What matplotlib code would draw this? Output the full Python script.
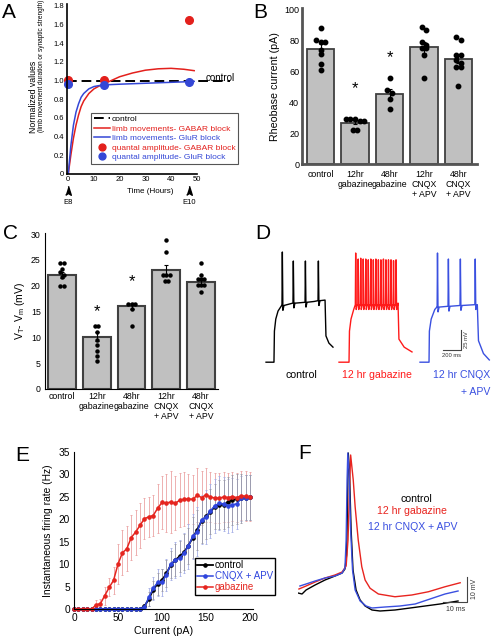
import numpy as np
import matplotlib
matplotlib.use('Agg')
import matplotlib.pyplot as plt
from matplotlib.lines import Line2D

plt.rcParams['font.family'] = ['Liberation Sans', 'DejaVu Sans']

W, H = 492, 636
RED = '#e3201c'
BLUE = '#3447d6'

# ---------------- data ----------------
# A: normalized values over time
a_curve_t = [0, 1, 2, 3, 4, 5, 6, 8, 10, 12, 14, 16, 20, 25, 30, 35, 40, 45, 49]
a_limb_gabar = [0, 0.2, 0.38, 0.52, 0.63, 0.72, 0.78, 0.86, 0.91, 0.94, 0.97, 0.99,
                1.04, 1.08, 1.11, 1.125, 1.13, 1.12, 1.105]
a_limb_glur = [0, 0.3, 0.52, 0.66, 0.75, 0.82, 0.86, 0.91, 0.935, 0.945, 0.95, 0.955,
               0.96, 0.965, 0.97, 0.975, 0.98, 0.985, 0.99]
a_quantal_t = [0, 14, 47]
a_quantal_gabar = [1.01, 1.005, 1.65]
a_quantal_glur = [0.96, 0.955, 0.985]
a_control_level = 0.99

# B / C: bar charts
groups = ['control', '12hr\ngabazine', '48hr\ngabazine', '12hr\nCNQX\n+ APV', '48hr\nCNQX\n+ APV']
b_means = [74.5, 27, 45.5, 75.5, 68]
b_err = [3, 1, 3, 3.5, 2.5]
b_points = [
    [88, 80, 79, 79, 74, 71, 65, 61],
    [29, 29, 29, 28, 28, 22, 22],
    [56, 48, 46, 42, 36],
    [89, 87, 79, 77, 75, 75, 70.5, 56],
    [82, 80, 70.5, 70.5, 67.3, 65.6, 63, 62.6, 50.8],
]
b_stars = [1, 2]
b_star_y = [49, 69]

c_means = [22.0, 10.1, 16.0, 23.1, 20.8]
c_err = [0.6, 0.9, 0.6, 1.0, 0.6]
c_points = [
    [24.4, 24.4, 23.3, 22.6, 22.1, 21.6, 19.9, 19.9],
    [12.1, 12.1, 11.0, 9.5, 8.5, 7.4, 6.3, 5.4],
    [16.5, 16.5, 16.5, 15.4, 12.1],
    [28.9, 26.6, 22.1, 22.1, 22.1, 21.0, 21.0],
    [24.4, 22.1, 21.2, 21.2, 21.2, 20.1, 20.1, 20.1, 18.7],
]
c_star_y = [15.0, 20.8]

# D: example firing traces (ms, mV) key points and spikes (time, base, peak)
d_ctrl_keys = [(67, -68.8), (155, -68.8), (160, -30), (175, -15), (200, -5), (240, 2),
               (400, 5), (600, 7), (722, 8.75), (732, -36), (765, -45), (810, -50)]
d_ctrl_spikes = [(244, 2, 68.75), (366, 5, 57.5), (500, 6, 57.5), (644, 8, 57.5)]
d_gaba_keys = [(877, -68.8), (988, -68.8), (993, -30), (1010, -15), (1040, -3), (1055, 2),
               (1532, 5), (1542, -40), (1600, -50), (1687, -56)]
d_gaba_spike_t = [1058, 1086, 1114, 1142, 1170, 1198, 1226, 1254, 1282, 1310, 1338,
                  1366, 1394, 1422, 1450, 1478, 1506]
d_gaba_spike_peak = [67.5, 60, 61, 60, 60, 59, 60, 59, 60, 59, 59, 60, 59, 59, 59, 58, 59]
d_cnqx_keys = [(1776, -68.8), (1876, -68.8), (1880, -30), (1900, -15), (1940, -3),
               (1963, 0), (2412, 3), (2425, -42), (2480, -58), (2545, -66)]
d_cnqx_spikes = [(1966, 0, 67.5), (2087, 1, 60), (2220, 2, 60), (2385, 3, 60)]

# E: firing rate vs current
e_current = np.arange(0, 205, 5)
e_control = [0] * 16 + [0.6, 2.2, 4.3, 5.6, 6.4, 7.9, 9.8, 10.9, 11.7, 12.6, 14.1, 15.9,
                        17.6, 19.6, 20.6, 21.6, 22.8, 23.2, 23.2, 23.8, 24.3, 24.5, 24.6,
                        24.8, 24.9]
e_cnqx = [0] * 16 + [0.4, 2.6, 4.6, 5.9, 6.0, 7.6, 10.0, 10.9, 11.3, 12.4, 14.0, 16.2,
                     17.2, 19.9, 20.4, 21.8, 23.0, 23.5, 23.4, 23.0, 23.2, 23.4, 24.6,
                     24.8, 24.9]
e_gabazine = [0, 0, 0, 0, 0, 0.9, 1.2, 3.0, 4.8, 6.4, 10.0, 12.5, 13.4, 15.9, 17.1, 18.6,
              20.1, 20.5, 20.8, 22.4, 23.7, 23.6, 23.8, 23.5, 24.2, 24.4, 24.5, 24.4, 25.3,
              24.8, 25.4, 24.9, 24.7, 24.7, 24.9, 24.8, 25.0, 24.8, 25.2, 25.1, 25.0]
e_control_err = [0] * 16 + [0.5, 1.5, 2, 2.5, 2.5, 3, 3, 3.5, 3.5, 4, 4, 4.5, 4.5, 5, 5,
                            5, 5, 5.5, 5.5, 5.5, 5.5, 5.5, 5.5, 5, 5]
e_cnqx_err = [0] * 16 + [0.5, 2, 2.5, 3, 3, 3.5, 3.5, 4, 4, 4.5, 5, 5, 5.5, 5.5, 6, 6,
                         6, 6, 6, 6, 6, 5.5, 5, 5, 5]
e_gabazine_err = [0, 0, 0, 0, 0, 1, 1, 2, 2, 3, 4.5, 5, 5, 5, 5, 5, 4.5, 4.5, 4.5, 5.5,
                  6, 6.5, 7, 6, 6, 6, 5.5, 5.5, 6, 6, 6, 5.5, 5.5, 5.5, 5.5, 5.5, 5.5,
                  5.5, 5.5, 5.5, 5.5]

# F: single action potentials (ms, mV)
f_ctrl_t = [0, 1.7, 3.4, 7.2, 11.4, 15.6, 18.6, 19.8, 20.5, 20.9, 21.2, 21.7, 22.4, 23.2,
            24.5, 26.2, 28.3, 31.2, 34.6, 40.9, 47.3, 53.6, 59.9, 67.5]
f_ctrl_v = [-39.4, -39.8, -38.2, -36.2, -34.2, -32.6, -31.4, -29.8, -24.2, -2.2, 16.6, 9.8,
            -14.2, -30.2, -38.2, -42.2, -44.6, -46.2, -46.6, -46.2, -45.4, -44.6, -43.8, -42.6]
f_cnqx_t = [0.8, 3.4, 7.2, 11.4, 15.6, 18.6, 19.8, 20.3, 20.7, 21.0, 21.5, 22.2, 23.0, 24.1,
            26.2, 28.7, 31.2, 36.7, 43.0, 49.4, 55.7, 62.0, 67.5]
f_cnqx_v = [-36.6, -35.8, -34.6, -33.4, -32.6, -31.4, -29.4, -18.2, 5.8, 16.6, 9.8, -14.2,
            -30.2, -38.2, -42.6, -44.6, -45.4, -45.0, -44.6, -43.8, -41.8, -39.8, -38.6]
f_gaba_t = [0.4, 3.4, 7.2, 11.4, 15.6, 18.6, 20.3, 21.1, 21.7, 22.2, 23.3, 24.1, 25.4, 26.9,
            28.3, 30.4, 33.9, 40.9, 48.0, 55.0, 62.0, 68.4]
f_gaba_v = [-37.8, -36.6, -35.0, -33.4, -32.2, -31.0, -28.6, -18.2, 1.8, 15.8, 5.8, -4.9,
            -18.2, -28.9, -34.2, -37.5, -39.8, -40.9, -40.2, -38.9, -36.9, -35.3]


fig = plt.figure(figsize=(W / 100, H / 100), dpi=100)


def px_axes(l, t, r, b):
    return fig.add_axes([l / W, 1 - b / H, (r - l) / W, (b - t) / H])


def px_text(x, y, s, **kw):
    return fig.text(x / W, 1 - y / H, s, **kw)


def swarm(vals, center, tol, step):
    # spread dots of nearly equal value side by side
    order = sorted(range(len(vals)), key=lambda i: -vals[i])
    grp = []
    for i in order:
        if grp and abs(vals[grp[-1][0]] - vals[i]) <= tol:
            grp[-1].append(i)
        else:
            grp.append([i])
    xs = [0.0] * len(vals)
    for g in grp:
        for k, i in enumerate(g):
            xs[i] = center + (k - (len(g) - 1) / 2) * step
    return xs


def build_trace(keys, spikes):
    pts = list(keys)
    for ts, base, peak in spikes:
        pts += [(ts, base), (ts + 4, peak), (ts + 10, base - 6), (ts + 22, base)]
    pts.sort()
    return [p[0] for p in pts], [p[1] for p in pts]


# ---------------- A ----------------
ax = px_axes(67, 4, 197, 173.7)
ax.plot([-0.5, 63], [a_control_level] * 2, color='k', ls='--', dashes=(5, 2.5), lw=1.4,
        clip_on=False, label='control')
ax.plot(a_curve_t, a_limb_gabar, color=RED, lw=1.1, label='limb movements- GABAR block')
ax.plot(a_curve_t, a_limb_glur, color=BLUE, lw=1.1, label='limb movements- GluR block')
ax.plot(a_quantal_t, a_quantal_gabar, 'o', color=RED, ms=5.5, clip_on=False,
        label='quantal amplitude- GABAR block')
ax.plot(a_quantal_t, a_quantal_glur, 'o', color=BLUE, ms=5.5, clip_on=False,
        label='quantal amplitude- GluR block')
ax.set_xlim(-0.5, 50.1)
ax.set_ylim(0, 1.82)
yt = np.arange(0, 1.81, 0.2)
ax.set_yticks(yt)
ax.set_yticklabels(['0'] + [f'{v:.1f}' for v in yt[1:]])
ax.set_xticks([0, 10, 20, 30, 40, 50])
ax.tick_params(length=0, labelsize=5.5, pad=2)
for s in ['top', 'right']:
    ax.spines[s].set_visible(False)
for s in ['left', 'bottom']:
    ax.spines[s].set_linewidth(1.2)
leg = ax.legend(loc='lower left', bbox_to_anchor=(0.154, 0.035), fontsize=6,
                handlelength=2.0, handletextpad=0.2, labelspacing=0.2, borderpad=0.3,
                fancybox=False, edgecolor='#555555', framealpha=1, markerscale=0.9)
leg.get_frame().set_linewidth(0.8)
for txt, col in zip(leg.get_texts(), ['k', RED, BLUE, RED, BLUE]):
    txt.set_color(col)
ax.text(53.3, 1.03, 'control', fontsize=7, va='center', ha='left')
ax.plot([0, 47], [-0.2, -0.2], ls='none', color='k', ms=9, clip_on=False,
        marker=[(0, 1), (0.45, -0.45), (0, -0.15), (-0.45, -0.45)])
ax.text(0, -0.31, 'E8', fontsize=5.5, ha='center', va='center')
ax.text(47, -0.31, 'E10', fontsize=5.5, ha='center', va='center')
ax.text(31.8, -0.186, 'Time (Hours)', fontsize=5.8, ha='center', va='center')
px_text(33, 133, 'Normalized values', rotation=90, ha='center', va='bottom', fontsize=6.3)
px_text(42, 132, '(limb movement duration or synaptic strength)', rotation=90,
        ha='center', va='bottom', fontsize=4.7)

# ---------------- B ----------------
ax = px_axes(302, 8, 477, 164.3)
xb = np.arange(len(groups))
ax.bar(xb, b_means, width=0.8, color='#c0c0c0', edgecolor='#404040', linewidth=1.3)
ax.errorbar(xb, b_means, yerr=b_err, fmt='none', ecolor='k', elinewidth=0.8,
            capsize=1.5, capthick=0.8)
for i, pts in enumerate(b_points):
    ax.plot(swarm(pts, i, 2.0, 0.135), pts, 'o', color='k', ms=3.2, zorder=4)
for i, y in zip(b_stars, b_star_y):
    ax.text(i, y, '*', fontsize=12, ha='center', va='center')
ax.set_xlim(-0.54, 4.54)
ax.set_ylim(0, 101)
ax.set_yticks([0, 20, 40, 60, 80, 100])
ax.set_xticks(xb)
ax.set_xticklabels(groups, fontsize=6.3, linespacing=1.15)
ax.tick_params(axis='y', length=0, labelsize=6.5, pad=2)
ax.tick_params(axis='x', length=0, pad=4)
ax.set_ylabel('Rheobase current (pA)', fontsize=7.7, labelpad=3)
for s in ['top', 'right']:
    ax.spines[s].set_visible(False)
for s in ['left', 'bottom']:
    ax.spines[s].set_linewidth(2)
    ax.spines[s].set_color('#555555')

# ---------------- C ----------------
ax = px_axes(45, 233, 218, 389)
ax.bar(xb, c_means, width=0.8, color='#c0c0c0', edgecolor='#404040', linewidth=1.5)
ax.errorbar(xb, c_means, yerr=c_err, fmt='none', ecolor='k', elinewidth=0.8,
            capsize=1.5, capthick=0.8)
for i, pts in enumerate(c_points):
    ax.plot(swarm(pts, i, 0.55, 0.1), pts, 'o', color='k', ms=2.2, zorder=4)
for i, y in zip(b_stars, c_star_y):
    ax.text(i, y, '*', fontsize=12, ha='center', va='center')
ax.set_xlim(-0.49, 4.49)
ax.set_ylim(0, 30.2)
ax.set_yticks([0, 5, 10, 15, 20, 25, 30])
ax.set_xticks(xb)
ax.set_xticklabels(groups, fontsize=6.3, linespacing=1.15)
ax.tick_params(axis='y', length=0, labelsize=6.3, pad=3)
ax.tick_params(axis='x', length=0, pad=2)
ax.set_ylabel(r'V$_\mathregular{T}$- V$_\mathregular{m}$ (mV)', fontsize=7.5, labelpad=3)
for s in ['top', 'right']:
    ax.spines[s].set_visible(False)

# ---------------- D ----------------
ax = px_axes(260, 240, 492, 400)
t, v = build_trace(d_ctrl_keys, d_ctrl_spikes)
ax.plot(t, v, color='k', lw=1.0)
t, v = build_trace(d_gaba_keys, [(ts, 3, pk) for ts, pk in zip(d_gaba_spike_t, d_gaba_spike_peak)])
ax.plot(t, v, color='#ff1a1a', lw=1.0)
t, v = build_trace(d_cnqx_keys, d_cnqx_spikes)
ax.plot(t, v, color='#3a50e0', lw=1.0)
ax.plot([2031, 2231, 2231], [-53.75, -53.75, -28.75], color='#444444', lw=0.8)
ax.text(2131, -57, '200 ms', fontsize=4.2, ha='center', va='top', color='#333333')
ax.text(2260, -41, '25 mV', fontsize=4.2, ha='left', va='center', rotation=90,
        color='#333333')
ax.text(455, -85, 'control', fontsize=7.6, ha='center', va='center')
ax.text(1299, -85, '12 hr gabazine', fontsize=7.6, ha='center', va='center', color='#ff1a1a')
ax.text(2553, -85, '12 hr CNQX', fontsize=7.6, ha='right', va='center', color='#3a50e0')
ax.text(2553, -106, '+ APV', fontsize=7.6, ha='right', va='center', color='#3a50e0')
ax.set_xlim(0, 2575)
ax.set_ylim(-116, 83.75)
ax.axis('off')

# ---------------- E ----------------
ax = px_axes(74, 451.7, 253, 609)
ax.errorbar(e_current, e_gabazine, yerr=e_gabazine_err, fmt='none', ecolor='#eba3a3',
            elinewidth=0.6, capsize=1, capthick=0.6)
ax.errorbar(e_current, e_cnqx, yerr=e_cnqx_err, fmt='none', ecolor='#a5aee6',
            elinewidth=0.6, capsize=1, capthick=0.6)
ax.errorbar(e_current, e_control, yerr=e_control_err, fmt='none', ecolor='#9a9aa8',
            elinewidth=0.6, capsize=1, capthick=0.6)
ax.plot(e_current, e_control, '-o', color='k', lw=1.3, ms=2.3, label='control', clip_on=False)
ax.plot(e_current, e_cnqx, '-o', color='#2f45dd', lw=1.1, ms=2.3, label='CNQX + APV',
        clip_on=False)
ax.plot(e_current, e_gabazine, '-o', color='#e5251f', lw=1.1, ms=2.3, label='gabazine',
        clip_on=False)
ax.set_xlim(0, 203.4)
ax.set_ylim(0, 35)
ax.set_xticks([0, 50, 100, 150, 200])
ax.set_yticks(range(0, 36, 5))
ax.tick_params(length=0, labelsize=7.3, pad=3)
ax.set_xlabel('Current (pA)', fontsize=7.7, labelpad=2)
ax.set_ylabel('Instantaneous firing rate (Hz)', fontsize=7.4, labelpad=4)
for s in ['top', 'right']:
    ax.spines[s].set_visible(False)
leg = ax.legend(loc='lower left', bbox_to_anchor=(0.648, 0.06), fontsize=7,
                handlelength=1.6, handletextpad=0.2, labelspacing=0.1, borderpad=0.25,
                fancybox=False, edgecolor='k', framealpha=1)
leg.get_frame().set_linewidth(1.0)
for txt, col in zip(leg.get_texts(), ['k', '#2f45dd', '#e5251f']):
    txt.set_color(col)

# ---------------- F ----------------
ax = px_axes(298, 450, 468, 612)
ax.plot(f_ctrl_t, f_ctrl_v, color='k', lw=1.0)
ax.plot(f_gaba_t, f_gaba_v, color='#e8241f', lw=1.0)
ax.plot(f_cnqx_t, f_cnqx_v, color='#3a4fe0', lw=1.0)
ax.plot([61.3, 71.3, 71.3], [-42.9, -42.9, -32.9], color='#444444', lw=0.8, clip_on=False)
ax.text(66.3, -44.5, '10 ms', fontsize=5, ha='center', va='top', color='#333333')
ax.text(73.0, -37.9, '10 mV', fontsize=5, ha='left', va='center', rotation=90,
        color='#333333')
ax.text(50.0, -1.6, 'control', fontsize=7.6, ha='center', va='center')
ax.text(48.0, -6.8, '12 hr gabazine', fontsize=7.6, ha='center', va='center', color='#e8241f')
ax.text(48.5, -12.8, '12 hr CNQX + APV', fontsize=7.6, ha='center', va='center',
        color='#3a4fe0')
ax.set_xlim(0, 71.7)
ax.set_ylim(-47, 17.8)
ax.axis('off')

# panel letters
for letter, x, y in [('A', 2, 3), ('B', 253, 3), ('C', 3, 224), ('D', 255, 224),
                     ('E', 15, 446), ('F', 298, 444)]:
    px_text(x, y, letter, fontsize=15, ha='left', va='top')

fig.savefig('out.png', dpi=100)
